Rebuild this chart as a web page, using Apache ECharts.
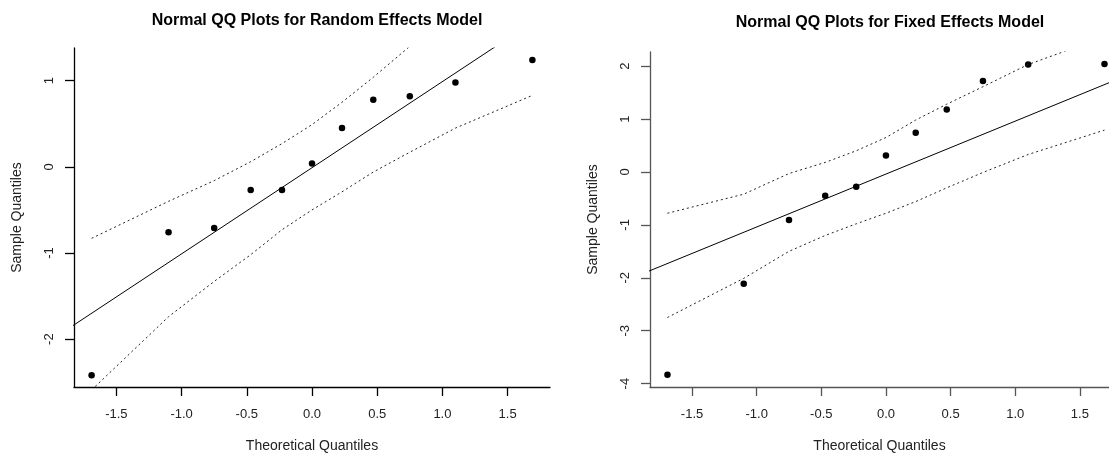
<!DOCTYPE html>
<html>
<head>
<meta charset="utf-8">
<title>Normal QQ Plots</title>
<script src="https://cdn.jsdelivr.net/npm/echarts@6/dist/echarts.min.js"></script>
<style>
  html, body { margin: 0; padding: 0; background: #ffffff; }
  #chart { width: 1109px; height: 458px; }
</style>
</head>
<body>
<div id="chart"></div>
<script>
// Theoretical normal quantiles shared by both panels
const theoQ = [-1.69, -1.10, -0.75, -0.47, -0.23, 0.00, 0.23, 0.47, 0.75, 1.10, 1.69];

// Random effects model: ordered residuals, reference line and envelope
const reSample = [-2.42, -0.76, -0.71, -0.27, -0.27, 0.04, 0.45, 0.78, 0.82, 0.98, 1.24];
const reUpper  = [-0.83, -0.40, -0.16, 0.06, 0.27, 0.49, 0.75, 1.04, 1.40, 1.72, 2.57];
const reLower  = [-2.59, -1.74, -1.33, -1.02, -0.73, -0.50, -0.29, -0.06, 0.17, 0.45, 0.83];
const reIntercept = -0.01;
const reSlope = 1.0;

// Fixed effects model: ordered residuals, reference line and envelope
const feSample = [-3.83, -2.11, -0.91, -0.45, -0.28, 0.31, 0.74, 1.18, 1.72, 2.03, 2.04];
const feUpper  = [-0.78, -0.42, -0.03, 0.18, 0.40, 0.65, 0.98, 1.28, 1.61, 2.03, 2.55];
const feLower  = [-2.75, -2.01, -1.50, -1.20, -0.98, -0.78, -0.56, -0.30, -0.01, 0.33, 0.79];
const feIntercept = -0.04;
const feSlope = 1.0;

// Axis ranges and tick labels (the fixed-effects panel runs off the right edge)
const reXRange = [-1.825, 1.825];
const feXRange = [-1.825, 1.725];
const xTicks = [-1.5, -1.0, -0.5, 0.0, 0.5, 1.0, 1.5];
const reYRange = [-2.556, 1.38];
const reYTicks = [-2, -1, 0, 1];
const feYRange = [-4.063, 2.266];
const feYTicks = [-4, -3, -2, -1, 0, 1, 2];

const titles = ['Normal QQ Plots for Random Effects Model', 'Normal QQ Plots for Fixed Effects Model'];
const xName = 'Theoretical Quantiles';
const yName = 'Sample Quantiles';

const FONT = '"Liberation Sans", Arial, sans-serif';

const pairs = (xs, ys) => xs.map((x, i) => [x, ys[i]]);
const refLine = (range, a, b) => {
  const x0 = range[0] - 0.1, x1 = range[1] + 0.1;
  return [[x0, a + b * x0], [x1, a + b * x1]];
};

function xAxisFor(gridIndex, range, color) {
  return {
    type: 'value', gridIndex,
    min: range[0], max: range[1],
    name: xName, nameLocation: 'middle', nameGap: 52,
    nameTextStyle: { fontFamily: FONT, fontSize: 14, color: '#222' },
    axisLine: { show: true, onZero: false, lineStyle: { color, width: 1.3 } },
    axisTick: { show: true, inside: false, length: 9, customValues: xTicks, lineStyle: { color, width: 1.3 } },
    axisLabel: { show: true, customValues: xTicks, margin: 21, fontFamily: FONT, fontSize: 13, color: '#222',
                 formatter: v => v.toFixed(1) },
    splitLine: { show: false }
  };
}

function yAxisFor(gridIndex, range, ticks, color) {
  return {
    type: 'value', gridIndex,
    min: range[0], max: range[1],
    name: yName, nameLocation: 'middle', nameGap: 50, nameRotate: 90,
    nameTextStyle: { fontFamily: FONT, fontSize: 14, color: '#222' },
    axisLine: { show: true, onZero: false, lineStyle: { color, width: 1.3 } },
    axisTick: { show: true, inside: false, length: 9, customValues: ticks, lineStyle: { color, width: 1.3 } },
    axisLabel: { show: true, customValues: ticks, rotate: 90, margin: 18, fontFamily: FONT, fontSize: 13, color: '#222',
                 formatter: v => String(v) },
    splitLine: { show: false }
  };
}

function panelSeries(idx, xRange, sample, upper, lower, a, b) {
  const dotted = { color: '#222', width: 1, type: [2, 3] };
  return [
    { type: 'line', xAxisIndex: idx, yAxisIndex: idx, data: refLine(xRange, a, b), showSymbol: false, clip: true,
      lineStyle: { color: '#000', width: 1 }, silent: true, animation: false },
    { type: 'line', xAxisIndex: idx, yAxisIndex: idx, data: pairs(theoQ, upper), showSymbol: false, clip: true,
      lineStyle: dotted, silent: true, animation: false },
    { type: 'line', xAxisIndex: idx, yAxisIndex: idx, data: pairs(theoQ, lower), showSymbol: false, clip: true,
      lineStyle: dotted, silent: true, animation: false },
    { type: 'scatter', xAxisIndex: idx, yAxisIndex: idx, data: pairs(theoQ, sample), symbol: 'circle', symbolSize: 6.5,
      itemStyle: { color: '#000', opacity: 1 }, animation: false }
  ];
}

const chart = echarts.init(document.getElementById('chart'), null, { renderer: 'canvas' });
chart.setOption({
  backgroundColor: '#ffffff',
  animation: false,
  title: [
    { text: titles[0], left: 312, top: 8, textAlign: 'center',
      textStyle: { fontFamily: FONT, fontSize: 16, fontWeight: 'bold', color: '#000' } },
    { text: titles[1], left: 885, top: 10, textAlign: 'center',
      textStyle: { fontFamily: FONT, fontSize: 16, fontWeight: 'bold', color: '#000' } }
  ],
  grid: [
    { left: 74, top: 48, width: 476, height: 342, containLabel: false },
    { left: 650, top: 52, width: 459, height: 339, containLabel: false }
  ],
  xAxis: [xAxisFor(0, reXRange, '#000'), xAxisFor(1, feXRange, '#555')],
  yAxis: [yAxisFor(0, reYRange, reYTicks, '#000'), yAxisFor(1, feYRange, feYTicks, '#555')],
  series: [
    ...panelSeries(0, reXRange, reSample, reUpper, reLower, reIntercept, reSlope),
    ...panelSeries(1, feXRange, feSample, feUpper, feLower, feIntercept, feSlope)
  ]
});
</script>
</body>
</html>
